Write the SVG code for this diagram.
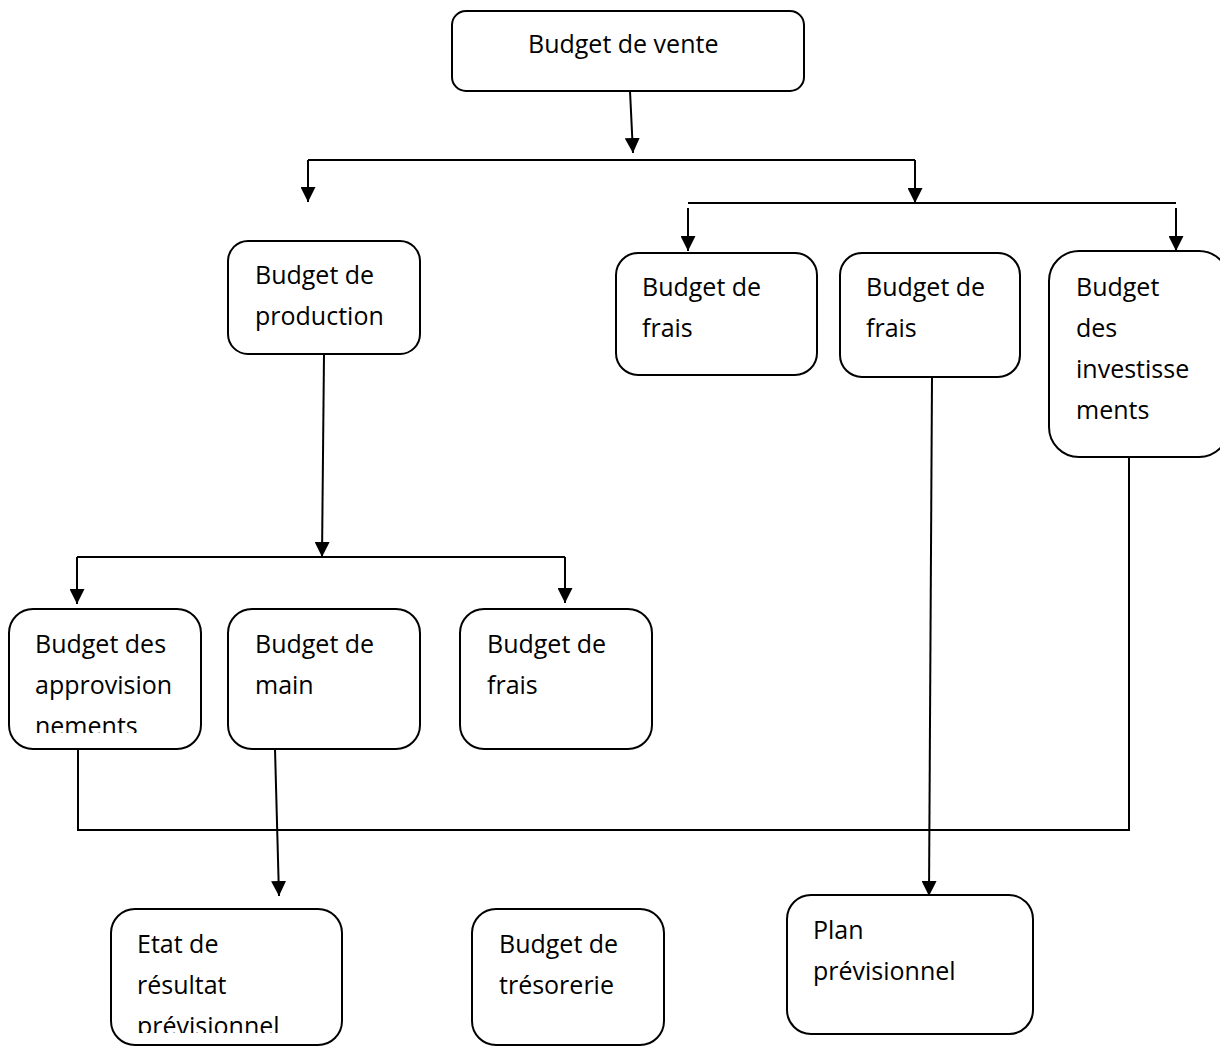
<svg xmlns="http://www.w3.org/2000/svg" width="1220" height="1046" viewBox="0 0 1220 1046">
  <style>
    .box { fill: #ffffff; stroke: #000000; stroke-width: 2; }
    .lbl { font-family: "Open Sans", "Noto Sans", "Liberation Sans", sans-serif; font-size: 25px; fill: #000000; }
    .wire { fill: none; stroke: #000000; stroke-width: 2; }
    .arrow { fill: none; stroke: #000000; stroke-width: 2; marker-end: url(#head); }
  </style>
  <defs>
    <marker id="head" markerUnits="userSpaceOnUse" markerWidth="16" markerHeight="15" refX="15" refY="7.5" orient="auto">
      <path d="M0,0 L15,7.5 L0,15 z" fill="#000000"/>
    </marker>
    <clipPath id="clipAppro"><rect x="0" y="600" width="210" height="133"/></clipPath>
    <clipPath id="clipEtat"><rect x="100" y="900" width="260" height="133"/></clipPath>
  </defs>
  <rect width="1220" height="1046" fill="#ffffff"/>

  <!-- connectors -->
  <g id="connectors">
    <path class="arrow" d="M630,91 L633,153"/>
    <path class="wire" d="M308,160 L915,160"/>
    <path class="arrow" d="M308,160 L308,202"/>
    <path class="arrow" d="M915,160 L915,203"/>
    <path class="wire" d="M688,203 L1176,203"/>
    <path class="arrow" d="M688,208 L688,251"/>
    <path class="arrow" d="M1176,208 L1176,251"/>
    <path class="arrow" d="M324,354 L322,557"/>
    <path class="wire" d="M77,557 L565,557"/>
    <path class="arrow" d="M77,557 L77,604"/>
    <path class="arrow" d="M565,557 L565,603"/>
    <path class="wire" d="M78,749 L78,830 L1129,830 L1129,457"/>
    <path class="arrow" d="M275,749 L279,896"/>
    <path class="arrow" d="M932,377 L929,896"/>
  </g>

  <!-- nodes -->
  <g id="budget-vente">
    <rect class="box" x="452" y="11" width="352" height="80" rx="14"/>
    <text class="lbl" x="528" y="53">Budget de vente</text>
  </g>
  <g id="budget-production">
    <rect class="box" x="228" y="241" width="192" height="113" rx="20"/>
    <text class="lbl" x="255" y="284">Budget de</text>
    <text class="lbl" x="255" y="325">production</text>
  </g>
  <g id="budget-frais-1">
    <rect class="box" x="616" y="253" width="201" height="122" rx="22"/>
    <text class="lbl" x="642" y="296">Budget de</text>
    <text class="lbl" x="642" y="337">frais</text>
  </g>
  <g id="budget-frais-2">
    <rect class="box" x="840" y="253" width="180" height="124" rx="22"/>
    <text class="lbl" x="866" y="296">Budget de</text>
    <text class="lbl" x="866" y="337">frais</text>
  </g>
  <g id="budget-investissements">
    <rect class="box" x="1049" y="251" width="180" height="206" rx="30"/>
    <text class="lbl" x="1076" y="296">Budget</text>
    <text class="lbl" x="1076" y="337">des</text>
    <text class="lbl" x="1076" y="378">investisse</text>
    <text class="lbl" x="1076" y="419">ments</text>
  </g>
  <g id="budget-approvisionnements">
    <rect class="box" x="9" y="609" width="192" height="140" rx="24"/>
    <g clip-path="url(#clipAppro)">
      <text class="lbl" x="35" y="653">Budget des</text>
      <text class="lbl" x="35" y="694">approvision</text>
      <text class="lbl" x="35" y="735">nements</text>
    </g>
  </g>
  <g id="budget-main">
    <rect class="box" x="228" y="609" width="192" height="140" rx="24"/>
    <text class="lbl" x="255" y="653">Budget de</text>
    <text class="lbl" x="255" y="694">main</text>
  </g>
  <g id="budget-frais-3">
    <rect class="box" x="460" y="609" width="192" height="140" rx="24"/>
    <text class="lbl" x="487" y="653">Budget de</text>
    <text class="lbl" x="487" y="694">frais</text>
  </g>
  <g id="etat-resultat">
    <rect class="box" x="111" y="909" width="231" height="136" rx="24"/>
    <g clip-path="url(#clipEtat)">
      <text class="lbl" x="137" y="953">Etat de</text>
      <text class="lbl" x="137" y="994">résultat</text>
      <text class="lbl" x="137" y="1035">prévisionnel</text>
    </g>
  </g>
  <g id="budget-tresorerie">
    <rect class="box" x="472" y="909" width="192" height="136" rx="24"/>
    <text class="lbl" x="499" y="953">Budget de</text>
    <text class="lbl" x="499" y="994">trésorerie</text>
  </g>
  <g id="plan-previsionnel">
    <rect class="box" x="787" y="895" width="246" height="139" rx="24"/>
    <text class="lbl" x="813" y="939">Plan</text>
    <text class="lbl" x="813" y="980">prévisionnel</text>
  </g>
</svg>
